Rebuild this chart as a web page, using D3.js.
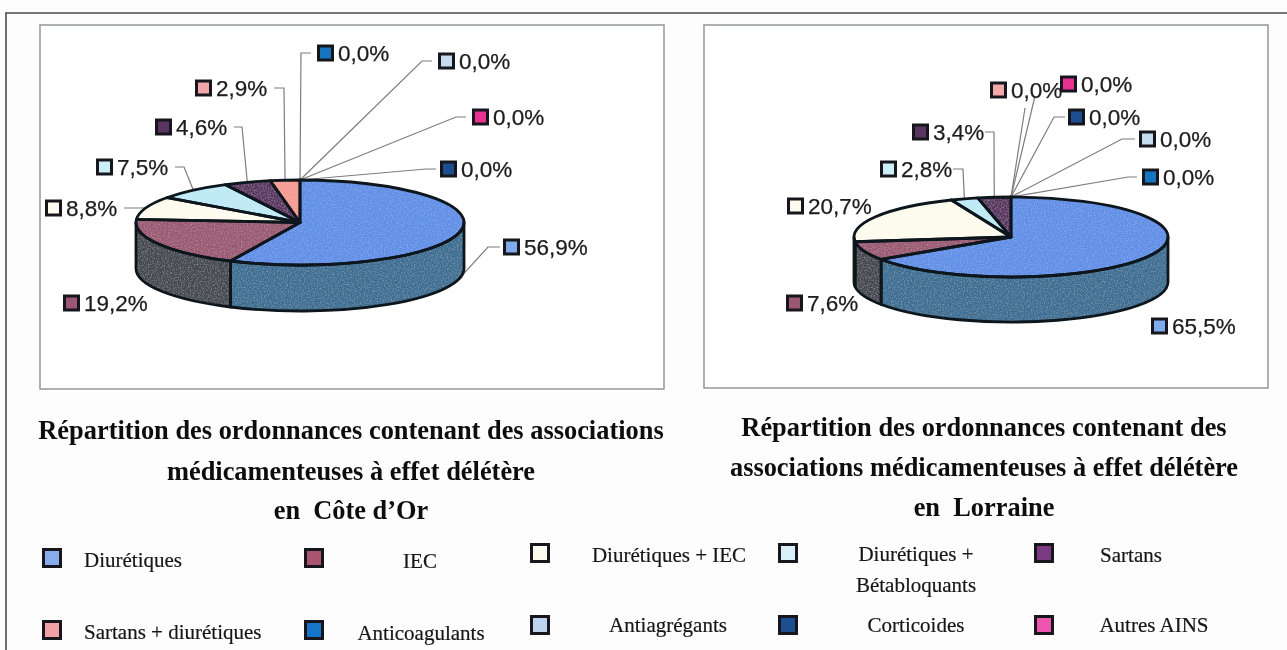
<!DOCTYPE html>
<html>
<head>
<meta charset="utf-8">
<script src="https://cdnjs.cloudflare.com/ajax/libs/d3/7.8.5/d3.min.js"></script>
<style>
html, body { margin: 0; padding: 0; background: #fdfdfd; overflow: hidden; }
svg { display: block; }
.lab { font: 22.5px "Liberation Sans", Arial, sans-serif; fill: #1c1c1c; stroke: #1c1c1c; stroke-width: 0.25; }
.title { font: bold 26.4px "Liberation Serif", "Times New Roman", serif; fill: #111; text-anchor: middle; }
.leg { font: 21px "Liberation Serif", "Times New Roman", serif; fill: #151515; stroke: #151515; stroke-width: 0.2; }
</style>
</head>
<body>
<svg id="chart" width="1287" height="650"></svg>
<script>
// data
var categories = ["Diurétiques", "IEC", "Diurétiques + IEC", "Diurétiques +\nBétabloquants", "Sartans",
	"Sartans + diurétiques", "Anticoagulants", "Antiagrégants", "Corticoides", "Autres AINS"];
var coteDor = [56.9, 19.2, 8.8, 7.5, 4.6, 2.9, 0, 0, 0, 0];
var lorraine = [65.5, 7.6, 20.7, 2.8, 3.4, 0, 0, 0, 0, 0];

var topColors = ["#5f8fe6", "#9a5872", "#fdfbee", "#bdeaf5", "#5a3562", "#f59a90", "#1274c0", "#bcd4ea", "#1f4f8f", "#e8308f"];
var sideColors = ["#3a6e92", "#45494f", "#45494f", "#45494f", "#45494f", "#45494f", "#333", "#333", "#333", "#333"];
var keyColors = ["#7dabec", "#9a5872", "#fdfbee", "#c8f0f5", "#5a3562", "#f2a8a8", "#1274c0", "#c5dcee", "#1f4f8f", "#e8308f"];
var legendColors = ["#86acec", "#a9546f", "#fdfbee", "#d9eff7", "#7a3a80", "#f2a0a8", "#1274c8", "#bcd4ee", "#1f4f8f", "#ee55b0"];

var titleLeft = ["Répartition des ordonnances contenant des associations", "médicamenteuses à effet délétère", "en  Côte d’Or"];
var titleRight = ["Répartition des ordonnances contenant des", "associations médicamenteuses à effet délétère", "en  Lorraine"];

// layout of the two plots
var leftChart = {
	values: coteDor, cx: 300, cy: 222.5, rx: 164, ry: 42.5, depth: 46,
	box: [40, 25, 664, 389],
	labels: [
		{ x: 503, y: 247, leader: [[500, 247], [488, 247]] },
		{ x: 63, y: 303 },
		{ x: 45, y: 208, leader: [[124, 208], [140, 208]] },
		{ x: 96, y: 167, leader: [[175, 167], [184, 167]] },
		{ x: 155, y: 127, leader: [[234, 127], [242, 127]] },
		{ x: 195, y: 88, leader: [[274, 88], [284, 88]] },
		{ x: 317, y: 53, leader: [[311, 53], [301, 53]] },
		{ x: 438, y: 61, leader: [[432, 61], [422, 61]] },
		{ x: 440, y: 169, leader: [[436, 169], [426, 169]] },
		{ x: 472, y: 117, leader: [[466, 117], [456, 117]] }
	]
};
var rightChart = {
	values: lorraine, cx: 1011, cy: 237, rx: 157, ry: 40, depth: 45,
	box: [704, 25, 1268, 388],
	labels: [
		{ x: 1151, y: 326 },
		{ x: 786, y: 303 },
		{ x: 787, y: 206 },
		{ x: 880, y: 169, leader: [[953, 169], [963, 169]] },
		{ x: 912, y: 132, leader: [[985, 132], [994, 132]] },
		{ x: 990, y: 90, leader: [[1025, 108]] },
		{ x: 1142, y: 177, leader: [[1137, 177], [1128, 177]] },
		{ x: 1139, y: 139, leader: [[1135, 139], [1122, 139]] },
		{ x: 1068, y: 117, leader: [[1065, 117], [1054, 117]] },
		{ x: 1060, y: 84, leader: [[1035, 96]] }
	]
};

var legendItems = [
	{ i: 0, sx: 42, sy: 548, tx: 84, ty: 567 },
	{ i: 1, sx: 304, sy: 548, tx: 420, ty: 568, anchor: "middle" },
	{ i: 2, sx: 530, sy: 543, tx: 669, ty: 562, anchor: "middle" },
	{ i: 3, sx: 778, sy: 543, tx: 916, ty: 561, anchor: "middle" },
	{ i: 4, sx: 1034, sy: 543, tx: 1131, ty: 562, anchor: "middle" },
	{ i: 5, sx: 42, sy: 620, tx: 84, ty: 639 },
	{ i: 6, sx: 304, sy: 620, tx: 421, ty: 640, anchor: "middle" },
	{ i: 7, sx: 530, sy: 615, tx: 668, ty: 632, anchor: "middle" },
	{ i: 8, sx: 778, sy: 615, tx: 916, ty: 632, anchor: "middle" },
	{ i: 9, sx: 1034, sy: 615, tx: 1154, ty: 632, anchor: "middle" }
];

var svg = d3.select("#chart");

// scan look: speckle on the pie faces, slight softening everywhere
var defs = svg.append("defs");
var speckle = defs.append("filter").attr("id", "speckle").attr("x", 0).attr("y", 0).attr("width", 1).attr("height", 1);
speckle.append("feTurbulence").attr("type", "fractalNoise").attr("baseFrequency", 0.7).attr("numOctaves", 1).attr("seed", 3).attr("result", "n");
speckle.append("feColorMatrix").attr("in", "n").attr("type", "matrix")
	.attr("values", "0 0 0 0 1  0 0 0 0 1  0 0 0 0 1  0.45 0 0 0 -0.2").attr("result", "w");
speckle.append("feComposite").attr("in", "w").attr("in2", "SourceAlpha").attr("operator", "in").attr("result", "m");
var fm = speckle.append("feMerge");
fm.append("feMergeNode").attr("in", "SourceGraphic");
fm.append("feMergeNode").attr("in", "m");
defs.append("filter").attr("id", "soft").append("feGaussianBlur").attr("stdDeviation", 0.45);

var root = svg.append("g").attr("filter", "url(#soft)");

// outer frame, only left and top show on the scan
root.append("path")
	.attr("d", "M6,650V13H1287")
	.attr("fill", "none").attr("stroke", "#4a4a4a").attr("stroke-width", 1.6);

var pie = d3.pie().sort(null).startAngle(0).endAngle(2 * Math.PI);

function drawPie(c) {
	var g = root.append("g");
	g.append("rect")
		.attr("x", c.box[0]).attr("y", c.box[1])
		.attr("width", c.box[2] - c.box[0]).attr("height", c.box[3] - c.box[1])
		.attr("fill", "#fff").attr("stroke", "#8a9090").attr("stroke-width", 1.4);

	var arcs = pie(c.values);
	function pt(a, dy) {
		return [c.cx + c.rx * Math.sin(a), c.cy - c.ry * Math.cos(a) + (dy || 0)];
	}
	// front wall, only the part between 90 and 270 degrees shows
	function wall(d) {
		var a0 = Math.max(d.startAngle, Math.PI / 2), a1 = Math.min(d.endAngle, 3 * Math.PI / 2);
		if (a1 <= a0) return null;
		return "M" + pt(a0) + "A" + c.rx + "," + c.ry + " 0 0 1 " + pt(a1) +
			"L" + pt(a1, c.depth) + "A" + c.rx + "," + c.ry + " 0 0 0 " + pt(a0, c.depth) + "Z";
	}

	// leader lines go under the pie
	var line = d3.line();
	arcs.forEach(function(d, i) {
		var lab = c.labels[i];
		if (!lab.leader) return;
		var mid = (d.startAngle + d.endAngle) / 2;
		var end = pt(mid, Math.cos(mid) < 0 ? c.depth : 0);
		g.append("path")
			.attr("d", line(lab.leader.concat([end])))
			.attr("fill", "none").attr("stroke", "#7c7c7c").attr("stroke-width", 1.2);
	});

	var walls = arcs.filter(function(d) { return wall(d) !== null; });
	var slices = arcs.filter(function(d) { return d.value > 0; });
	var arc = d3.arc().innerRadius(0).outerRadius(c.rx);
	var squash = "translate(" + c.cx + "," + c.cy + ") scale(1," + (c.ry / c.rx) + ")";

	var pieG = g.append("g").attr("filter", "url(#speckle)");
	pieG.selectAll("path.wall").data(walls).enter().append("path")
		.attr("class", "wall")
		.attr("d", wall)
		.attr("fill", function(d) { return sideColors[d.index]; });
	pieG.append("g").attr("transform", squash)
		.selectAll("path").data(slices).enter().append("path")
		.attr("d", arc)
		.attr("fill", function(d) { return topColors[d.index]; });

	// outlines on top so the speckle stays off them
	g.selectAll("path.wallline").data(walls).enter().append("path")
		.attr("class", "wallline")
		.attr("d", wall)
		.attr("fill", "none").attr("stroke", "#0e181e").attr("stroke-width", 2.8).attr("stroke-linejoin", "round");
	g.append("g").attr("transform", squash)
		.selectAll("path").data(slices).enter().append("path")
		.attr("d", arc)
		.attr("fill", "none")
		.attr("stroke", "#0e181e").attr("stroke-width", 2.8)
		.attr("stroke-linejoin", "round")
		.attr("vector-effect", "non-scaling-stroke");

	// value labels with their small key
	var labs = g.selectAll("g.vlab").data(arcs).enter().append("g")
		.attr("class", "vlab")
		.attr("transform", function(d, i) { return "translate(" + c.labels[i].x + "," + c.labels[i].y + ")"; });
	labs.append("rect")
		.attr("x", 1.5).attr("y", -7).attr("width", 14).attr("height", 14)
		.attr("fill", function(d, i) { return keyColors[i]; })
		.attr("stroke", "#16181c").attr("stroke-width", 3);
	labs.append("text")
		.attr("class", "lab")
		.attr("x", 21).attr("y", 8)
		.text(function(d) { return d3.format(".1f")(d.value).replace(".", ",") + "%"; });
}

drawPie(leftChart);
drawPie(rightChart);

// titles under the plots
root.selectAll("text.tl").data(titleLeft).enter().append("text")
	.attr("class", "title tl").attr("x", 351).style("white-space", "pre")
	.attr("y", function(d, i) { return [439, 480, 519][i]; })
	.text(function(d) { return d; });
root.selectAll("text.tr").data(titleRight).enter().append("text")
	.attr("class", "title tr").attr("x", 984).style("white-space", "pre")
	.attr("y", function(d, i) { return [436, 476, 516][i]; })
	.text(function(d) { return d; });

// legend
var items = root.selectAll("g.item").data(legendItems).enter().append("g").attr("class", "item");
items.append("rect")
	.attr("x", function(d) { return d.sx + 1.5; }).attr("y", function(d) { return d.sy + 1.5; })
	.attr("width", 17).attr("height", 17)
	.attr("fill", function(d) { return legendColors[d.i]; })
	.attr("stroke", "#16181c").attr("stroke-width", 3);
items.each(function(d) {
	d3.select(this).selectAll("text").data(categories[d.i].split("\n")).enter().append("text")
		.attr("class", "leg")
		.attr("text-anchor", d.anchor || "start")
		.attr("x", d.tx)
		.attr("y", function(t, k) { return d.ty + k * 31; })
		.text(function(t) { return t; });
});
</script>
</body>
</html>
